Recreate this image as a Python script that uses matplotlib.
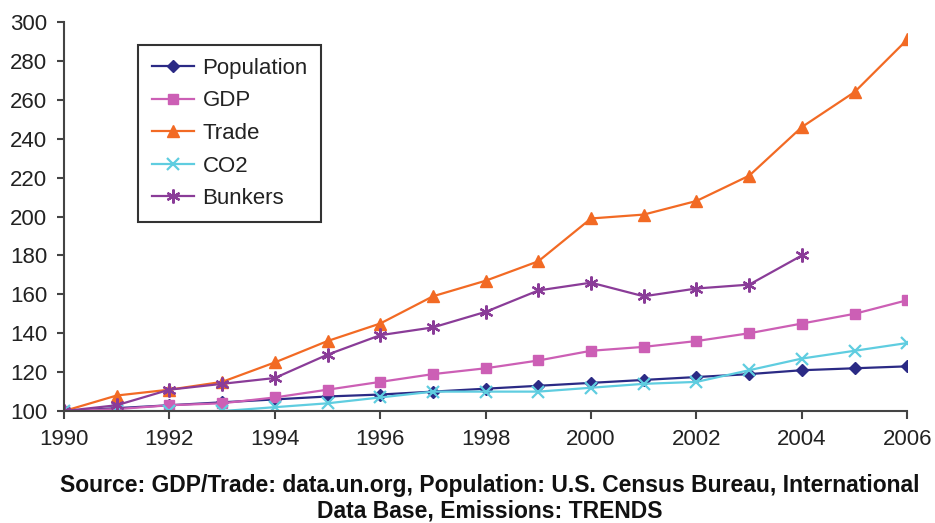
import matplotlib.pyplot as plt

years = list(range(1990, 2007))
population = [100, 101.5, 103, 104.5, 106, 107.5, 108.5, 110, 111.5, 113, 114.5, 116, 117.5, 119, 121, 122, 123]
gdp = [100, 101, 103, 104, 107, 111, 115, 119, 122, 126, 131, 133, 136, 140, 145, 150, 157]
trade = [100, 108, 111, 115, 125, 136, 145, 159, 167, 177, 199, 201, 208, 221, 246, 264, 291]
co2 = [100, 100, 100, 100, 102, 104, 107, 110, 110, 110, 112, 114, 115, 121, 127, 131, 135]
bunker_years = list(range(1990, 2005))
bunkers = [100, 103, 111, 114, 117, 129, 139, 143, 151, 162, 166, 159, 163, 165, 180]

plt.rcParams['font.family'] = ['Liberation Sans', 'DejaVu Sans']

fig = plt.figure(figsize=(9.35, 5.23), dpi=100)
ax = fig.add_axes([0.0684, 0.214, 0.902, 0.744])

ax.plot(years, population, color='#2b2a85', marker='D', ms=6, lw=1.6, label='Population')
ax.plot(years, gdp, color='#cc5fb5', marker='s', ms=7, lw=1.6, label='GDP')
ax.plot(years, trade, color='#f26a24', marker='^', ms=8, lw=1.6, label='Trade')
ax.plot(years, co2, color='#5fcde0', marker='x', ms=8, mew=1.6, lw=1.6, label='CO2')
ax.plot(bunker_years, bunkers, color='#8a3c98', marker=(6, 2, 0), ms=10, mew=1.6, lw=1.6, label='Bunkers')

ax.set_xlim(1990, 2006)
ax.set_ylim(100, 300)
ax.set_xticks(range(1990, 2007, 2))
ax.set_yticks(range(100, 301, 20))
ax.spines['top'].set_visible(False)
ax.spines['right'].set_visible(False)
ax.spines['left'].set_color('#444444')
ax.spines['bottom'].set_color('#444444')
ax.spines['left'].set_linewidth(1.5)
ax.spines['bottom'].set_linewidth(1.5)
ax.tick_params(axis='x', direction='out', length=6, width=1.5, color='#444444', labelsize=16, pad=7)
ax.tick_params(axis='y', direction='out', length=5, width=1.5, color='#444444', labelsize=16, pad=7)
for lab in ax.get_xticklabels() + ax.get_yticklabels():
    lab.set_color('#222222')

leg = ax.legend(loc='upper left', bbox_to_anchor=(0.088, 0.942), borderaxespad=0,
                fontsize=16, fancybox=False, edgecolor='#333333', framealpha=1,
                handlelength=1.9, handletextpad=0.4, labelspacing=0.52, borderpad=0.6)
leg.get_frame().set_linewidth(1.5)
for t in leg.get_texts():
    t.set_color('#222222')

fig.text(0.524, 0.047, 'Source: GDP/Trade: data.un.org, Population: U.S. Census Bureau, International\nData Base, Emissions: TRENDS',
         ha='center', va='center', fontsize=16.5, fontweight='bold', linespacing=1.15, color='#111111')

fig.savefig('out.png', dpi=100)
